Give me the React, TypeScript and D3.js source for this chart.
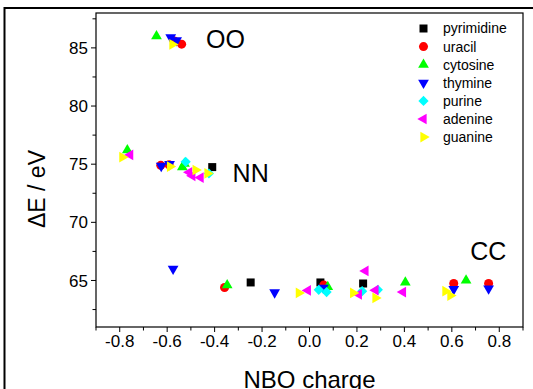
import React from "react"
import * as d3 from "d3"

// series points as [NBO charge, ΔE in eV]
const pyrimidine: [number, number][] = [[-0.41, 74.75], [-0.248, 64.83], [0.046, 64.83], [0.226, 64.74]]
const uracil: [number, number][] = [[-0.57, 85.6], [-0.539, 85.32], [-0.627, 74.9], [-0.592, 74.95], [-0.358, 64.4], [0.06, 64.6], [0.608, 64.74], [0.755, 64.74]]
const cytosine: [number, number][] = [[-0.645, 86.0], [-0.768, 76.2], [-0.536, 74.75], [-0.527, 75.05], [-0.347, 64.6], [0.077, 64.45], [0.404, 64.83], [0.66, 65.0]]
const thymine: [number, number][] = [[-0.585, 85.9], [-0.56, 85.65], [-0.625, 74.85], [-0.59, 75.0], [-0.575, 66.0], [-0.147, 63.97], [0.058, 64.37], [0.608, 64.25], [0.755, 64.3]]
const purine: [number, number][] = [[-0.522, 75.2], [-0.424, 74.2], [0.039, 64.2], [0.072, 64.0], [0.222, 64.08], [0.288, 64.2]]
const adenine: [number, number][] = [[-0.756, 75.8], [-0.507, 74.3], [-0.494, 74.0], [-0.459, 73.85], [-0.007, 64.14], [0.236, 65.82], [0.208, 63.8], [0.278, 64.17], [0.394, 64.0]]
const guanine: [number, number][] = [[-0.578, 85.3], [-0.789, 75.6], [-0.588, 74.8], [-0.48, 74.5], [-0.43, 74.2], [-0.045, 63.93], [0.184, 63.93], [0.278, 63.5], [0.573, 64.08], [0.594, 63.7]]

const seriesNames = ["pyrimidine", "uracil", "cytosine", "thymine", "purine", "adenine", "guanine"]
const seriesData = [pyrimidine, uracil, cytosine, thymine, purine, adenine, guanine]
const seriesColors = ["#000000", "#ff0000", "#00ff00", "#0000ff", "#00ffff", "#ff00ff", "#ffff00"]

const xTicks = [-0.8, -0.6, -0.4, -0.2, 0.0, 0.2, 0.4, 0.6, 0.8]
const yTicks = [65, 70, 75, 80, 85]

const bondLabels: { text: string; x: number; y: number }[] = [
	{ text: "OO", x: -0.354, y: 84.95 },
	{ text: "NN", x: -0.248, y: 73.45 },
	{ text: "CC", x: 0.754, y: 66.8 },
]

/** symbol type, rotation and area for each series */
const shapes: [d3.SymbolType, number, number][] = [
	[d3.symbolSquare, 0, 64],
	[d3.symbolCircle, 0, 64],
	[d3.symbolTriangle, 0, 50],
	[d3.symbolTriangle, 180, 50],
	[d3.symbolSquare, 45, 52],
	[d3.symbolTriangle, -90, 50],
	[d3.symbolTriangle, 90, 50],
]

export default function App() {
	const width = 533
	const height = 389
	const left = 96
	const right = 523
	const top = 13
	const bottom = 327

	const x = d3.scaleLinear().domain([-0.9, 0.9]).range([left, right])
	const y = d3.scaleLinear().domain([61, 88]).range([bottom, top])

	const xMinor = d3.range(-9, 10).map(i => i / 10)
	const yMinor = d3.range(62.5, 88, 2.5)

	const font = "Liberation Sans, Arial, sans-serif"

	const marker = (i: number, cx: number, cy: number, key: string) => {
		const [type, rot, size] = shapes[i]
		const path = d3.symbol().type(type).size(size)() || ""
		return (
			<path
				key={key}
				d={path}
				fill={seriesColors[i]}
				transform={`translate(${cx},${cy}) rotate(${rot})`}
			/>
		)
	}

	return (
		<svg width={width} height={height} style={{ position: "absolute", left: 0, top: 0, background: "#fff" }}>
			{/* outer frame */}
			<path d={`M4.5,${height + 2} V8 H${width + 2}`} fill="none" stroke="#000" strokeWidth={2} />

			{/* plot box */}
			<rect x={left} y={top} width={right - left} height={bottom - top} fill="none" stroke="#000" strokeWidth={1.2} />

			{/* x ticks */}
			{xMinor.map(v => {
				const major = xTicks.some(t => Math.abs(t - v) < 1e-6)
				return <line key={"xm" + v} x1={x(v)} x2={x(v)} y1={bottom} y2={bottom + (major ? 5 : 3.5)} stroke="#000" strokeWidth={1} />
			})}
			{xTicks.map(v => (
				<text key={"xt" + v} x={x(v)} y={bottom + 20} textAnchor="middle" fontFamily={font} fontSize={17}>
					{d3.format(".1f")(v).replace("−", "-")}
				</text>
			))}

			{/* y ticks */}
			{yMinor.map(v => {
				const major = yTicks.includes(v)
				return <line key={"ym" + v} x1={left} x2={left - (major ? 5 : 3.5)} y1={y(v)} y2={y(v)} stroke="#000" strokeWidth={1} />
			})}
			{yTicks.map(v => (
				<text key={"yt" + v} x={left - 8} y={y(v)} dy="0.36em" textAnchor="end" fontFamily={font} fontSize={17}>
					{v}
				</text>
			))}

			{/* axis titles */}
			<text x={x(0)} y={388} textAnchor="middle" fontFamily={font} fontSize={24}>NBO charge</text>
			<text transform={`translate(45,189) rotate(-90)`} textAnchor="middle" fontFamily={font} fontSize={23}>ΔE / eV</text>

			{/* bond type labels */}
			{bondLabels.map(b => (
				<text key={b.text} x={x(b.x)} y={y(b.y)} textAnchor="middle" fontFamily={font} fontSize={25}>{b.text}</text>
			))}

			{/* points */}
			{seriesData.map((pts, i) => (
				<g key={seriesNames[i]}>
					{pts.map((p, j) => marker(i, x(p[0]), y(p[1]), `${i}-${j}`))}
				</g>
			))}

			{/* legend */}
			{seriesNames.map((name, i) => (
				<g key={"lg" + name} transform={`translate(0,${28.5 + i * 18.1})`}>
					{marker(i, 423.5, 0, "lgm" + i)}
					<text x={443} y={0} dy="0.35em" fontFamily={font} fontSize={14}>{name}</text>
				</g>
			))}
		</svg>
	)
}
